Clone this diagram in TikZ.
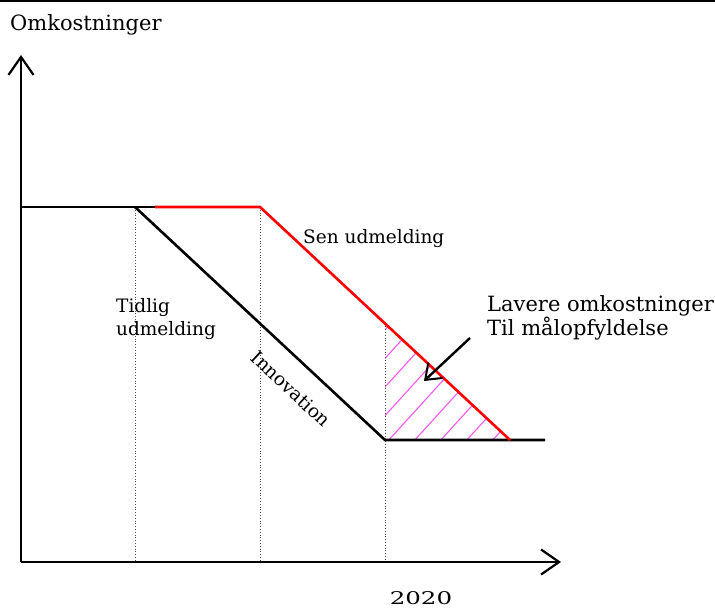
\documentclass[tikz,border=0pt]{standalone}
\usepackage{fontspec}
\setmainfont{DejaVu Serif}
\usetikzlibrary{arrows.meta}
\definecolor{hatchpink}{RGB}{245,90,245}
\definecolor{curvered}{RGB}{255,0,0}
\tikzset{
  axis/.style={line width=2.6pt, -{Straight Barb[length=18pt,width=25pt,line width=2.2pt]}},
  curve/.style={line width=2.6pt, line join=miter},
  guide/.style={line width=0.8pt, dotted, black!70},
  hatchline/.style={line width=1.1pt, hatchpink},
  pointer/.style={line width=2.4pt, -{Straight Barb[length=14pt,width=21pt,line width=2pt]}},
  lbl/.style={inner sep=0pt, font=\fontsize{18.5}{23}\selectfont},
  biglbl/.style={inner sep=0pt, font=\fontsize{21}{24.5}\selectfont}
}
\begin{document}
\begin{tikzpicture}[x=1pt,y=-1pt]
\useasboundingbox (0,0) rectangle (715,610);
% frame rule along the top edge
\draw[line width=2pt] (0,1) -- (715,1);

% key points of the cost curves
\coordinate (O) at (21,562);
\coordinate (ytop) at (21,55);
\coordinate (xend) at (561,562);
\coordinate (lvl) at (21,207);
\coordinate (early) at (135,207);
\coordinate (split) at (155,207);
\coordinate (late) at (260,207);
\coordinate (lowA) at (385,440);
\coordinate (lowB) at (510,440);
\coordinate (lowEnd) at (545,440);
\coordinate (cross) at (385,323.5);

% hatched saving area
\begin{scope}
  \clip (cross) -- (lowA) -- (lowB) -- cycle;
  \foreach \b in {231,257,...,540}
    \draw[hatchline] (\b,442) -- ++(160,-176);
\end{scope}

% dotted guides down to the time axis
\draw[guide] (early) -- (early |- O);
\draw[guide] (late) -- (late |- O);
\draw[guide] (cross) -- (cross |- O);

% axes
\draw[axis] (O) -- (ytop);
\draw[axis] (O) -- (xend);

% early exit with innovation
\draw[curve] (lvl) -- (split);
\draw[curve] (early) -- (lowA) -- (lowEnd);
% late exit
\draw[curve, curvered] (split) -- (late) -- (lowB);

% pointer into the hatched area
\coordinate (pstart) at (470,338);
\coordinate (pend) at (424,381);
\draw[pointer] (pstart) -- (pend);

% labels
\node[biglbl, anchor=west] (ylabel) at (10,25) {Omkostninger};
\node[lbl, anchor=west] (senlbl) at (303,239) {Sen udmelding};
\node[lbl, anchor=north west, align=left] (tidlbl) at (116,298) {Tidlig\\udmelding};
\node[lbl, rotate=-43] (innolbl) at (291,389) {Innovation};
\node[biglbl, anchor=north west, align=left] (lavlbl) at (487,295) {Lavere omkostninger\\Til målopfyldelse};
\node[inner sep=0pt, font=\fontsize{17.5}{20}\selectfont] (yearlbl) at (421,598.5) {\scalebox{1.4}[1]{2020}};
\end{tikzpicture}
\end{document}
